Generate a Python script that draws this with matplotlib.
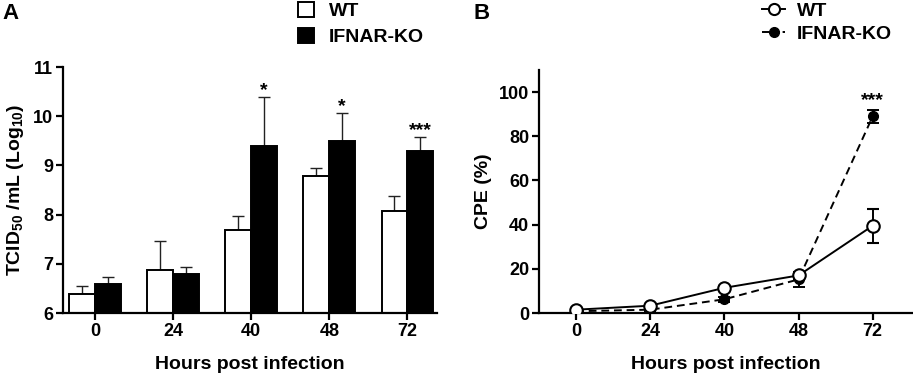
import matplotlib
matplotlib.use("Agg")
import matplotlib.pyplot as plt
import numpy as np
from matplotlib.patches import Patch
from matplotlib.lines import Line2D

plt.rcParams['font.family'] = ['Liberation Sans', 'DejaVu Sans']
plt.rcParams['font.weight'] = 'bold'
plt.rcParams['mathtext.fontset'] = 'custom'
plt.rcParams['mathtext.rm'] = 'Liberation Sans:bold'
plt.rcParams['mathtext.bf'] = 'Liberation Sans:bold'
plt.rcParams['mathtext.it'] = 'Liberation Sans:bold'

hours = ["0", "24", "40", "48", "72"]

# Panel A: TCID50 (log10)
wt_titer = [6.38, 6.88, 7.68, 8.78, 8.08]
wt_titer_err = [0.16, 0.58, 0.29, 0.16, 0.29]
ko_titer = [6.59, 6.79, 9.39, 9.49, 9.29]
ko_titer_err = [0.15, 0.15, 1.0, 0.57, 0.29]
stars_a = ["", "", "*", "*", "***"]

# Panel B: CPE (%)
wt_cpe = [1.5, 3.3, 11.4, 17.0, 39.5]
wt_cpe_err = [0.5, 0.5, 1.0, 1.5, 7.8]
ko_cpe = [0.8, 1.5, 6.2, 15.2, 89.0]
ko_cpe_err = [0.3, 0.5, 1.0, 3.4, 3.0]
stars_b = ["", "", "", "", "***"]

W, H = 913, 378
fig = plt.figure(figsize=(W / 100, H / 100), dpi=100)

def box(l, r, t, b):
    return [l / W, (H - b) / H, (r - l) / W, (b - t) / H]

lw = 1.6
tick_fs = 13
lab_fs = 14

def style(ax):
    for s in ['top', 'right']:
        ax.spines[s].set_visible(False)
    for s in ['left', 'bottom']:
        ax.spines[s].set_linewidth(lw)
    ax.tick_params(axis='both', width=lw, length=5, labelsize=tick_fs, direction='out', pad=2)
    for t in ax.get_xticklabels() + ax.get_yticklabels():
        t.set_fontweight('bold')

# ---------- Panel A ----------
axA = fig.add_axes(box(63, 437, 67, 313))
x = np.arange(len(hours))
bw = 0.33
axA.bar(x - bw / 2, wt_titer, bw, color='white', edgecolor='black', linewidth=1.4, zorder=2)
axA.bar(x + bw / 2, ko_titer, bw, color='black', edgecolor='black', linewidth=1.4, zorder=2)
axA.errorbar(x - bw / 2, wt_titer, yerr=[np.zeros(5), wt_titer_err], fmt='none',
             ecolor='#222222', elinewidth=1.0, capsize=4.5, capthick=1.0, zorder=1)
axA.errorbar(x + bw / 2, ko_titer, yerr=[np.zeros(5), ko_titer_err], fmt='none',
             ecolor='#222222', elinewidth=1.0, capsize=4.5, capthick=1.0, zorder=1)
for i, s in enumerate(stars_a):
    if s:
        axA.text(x[i] + bw / 2, ko_titer[i] + ko_titer_err[i] - 0.04, s, ha='center', va='bottom',
                 fontsize=14, fontweight='bold')
axA.set_ylim(6, 11)
axA.set_xlim(-0.41, 4.38)
axA.set_yticks([6, 7, 8, 9, 10, 11])
axA.set_xticks(x)
axA.set_xticklabels(hours)
axA.set_xlabel("Hours post infection", fontsize=lab_fs, fontweight='bold', labelpad=12)
axA.set_ylabel(r"TCID$_{\mathbf{50}}$ /mL (Log$_{\mathbf{10}}$)", fontsize=lab_fs, fontweight='bold', labelpad=5)
style(axA)

fig.legend(handles=[Patch(facecolor='white', edgecolor='black', linewidth=1.4, label='WT'),
                    Patch(facecolor='black', edgecolor='black', linewidth=1.4, label='IFNAR-KO')],
           loc='upper left', bbox_to_anchor=(296 / W, 1.0), frameon=False,
           prop={'size': lab_fs, 'weight': 'bold'}, handlelength=0.8, handleheight=0.8,
           handletextpad=0.8, labelspacing=0.4, borderaxespad=0.0, borderpad=0.1)

fig.text(2 / W, 1 - 3 / H, "A", fontsize=16, fontweight='bold', va='top', ha='left')

# ---------- Panel B ----------
axB = fig.add_axes(box(539, 912, 70, 313))
axB.errorbar(x, ko_cpe, yerr=ko_cpe_err, fmt='o--', color='black', mfc='black', mec='black',
             ms=7, lw=1.4, elinewidth=1.4, capsize=4.5, capthick=1.4, zorder=2, dashes=(4, 2.5))
axB.errorbar(x, wt_cpe, yerr=wt_cpe_err, fmt='o-', color='black', mfc='white', mec='black',
             ms=9, mew=1.5, lw=1.4, elinewidth=1.4, capsize=4.5, capthick=1.4, zorder=3)
for i, s in enumerate(stars_b):
    if s:
        axB.text(x[i], ko_cpe[i] + ko_cpe_err[i] + 0.5, s, ha='center', va='bottom',
                 fontsize=14, fontweight='bold')
axB.set_ylim(0, 110)
axB.set_xlim(-0.5, 4.53)
axB.set_yticks([0, 20, 40, 60, 80, 100])
axB.set_xticks(x)
axB.set_xticklabels(hours)
axB.set_xlabel("Hours post infection", fontsize=lab_fs, fontweight='bold', labelpad=12)
axB.set_ylabel("CPE (%)", fontsize=lab_fs, fontweight='bold', labelpad=5)
style(axB)

fig.legend(handles=[Line2D([], [], color='black', marker='o', mfc='white', mec='black', ms=8, mew=1.5, lw=1.4, label='WT'),
                    Line2D([], [], color='black', marker='o', mfc='black', ls='--', ms=7, lw=1.4, label='IFNAR-KO')],
           loc='upper left', bbox_to_anchor=(760 / W, 1.0), frameon=False,
           prop={'size': lab_fs, 'weight': 'bold'}, handlelength=1.2,
           handletextpad=0.6, labelspacing=0.3, borderaxespad=0.0, borderpad=0.1)

fig.text(473 / W, 1 - 3 / H, "B", fontsize=16, fontweight='bold', va='top', ha='left')

fig.savefig("out.png", dpi=100)
